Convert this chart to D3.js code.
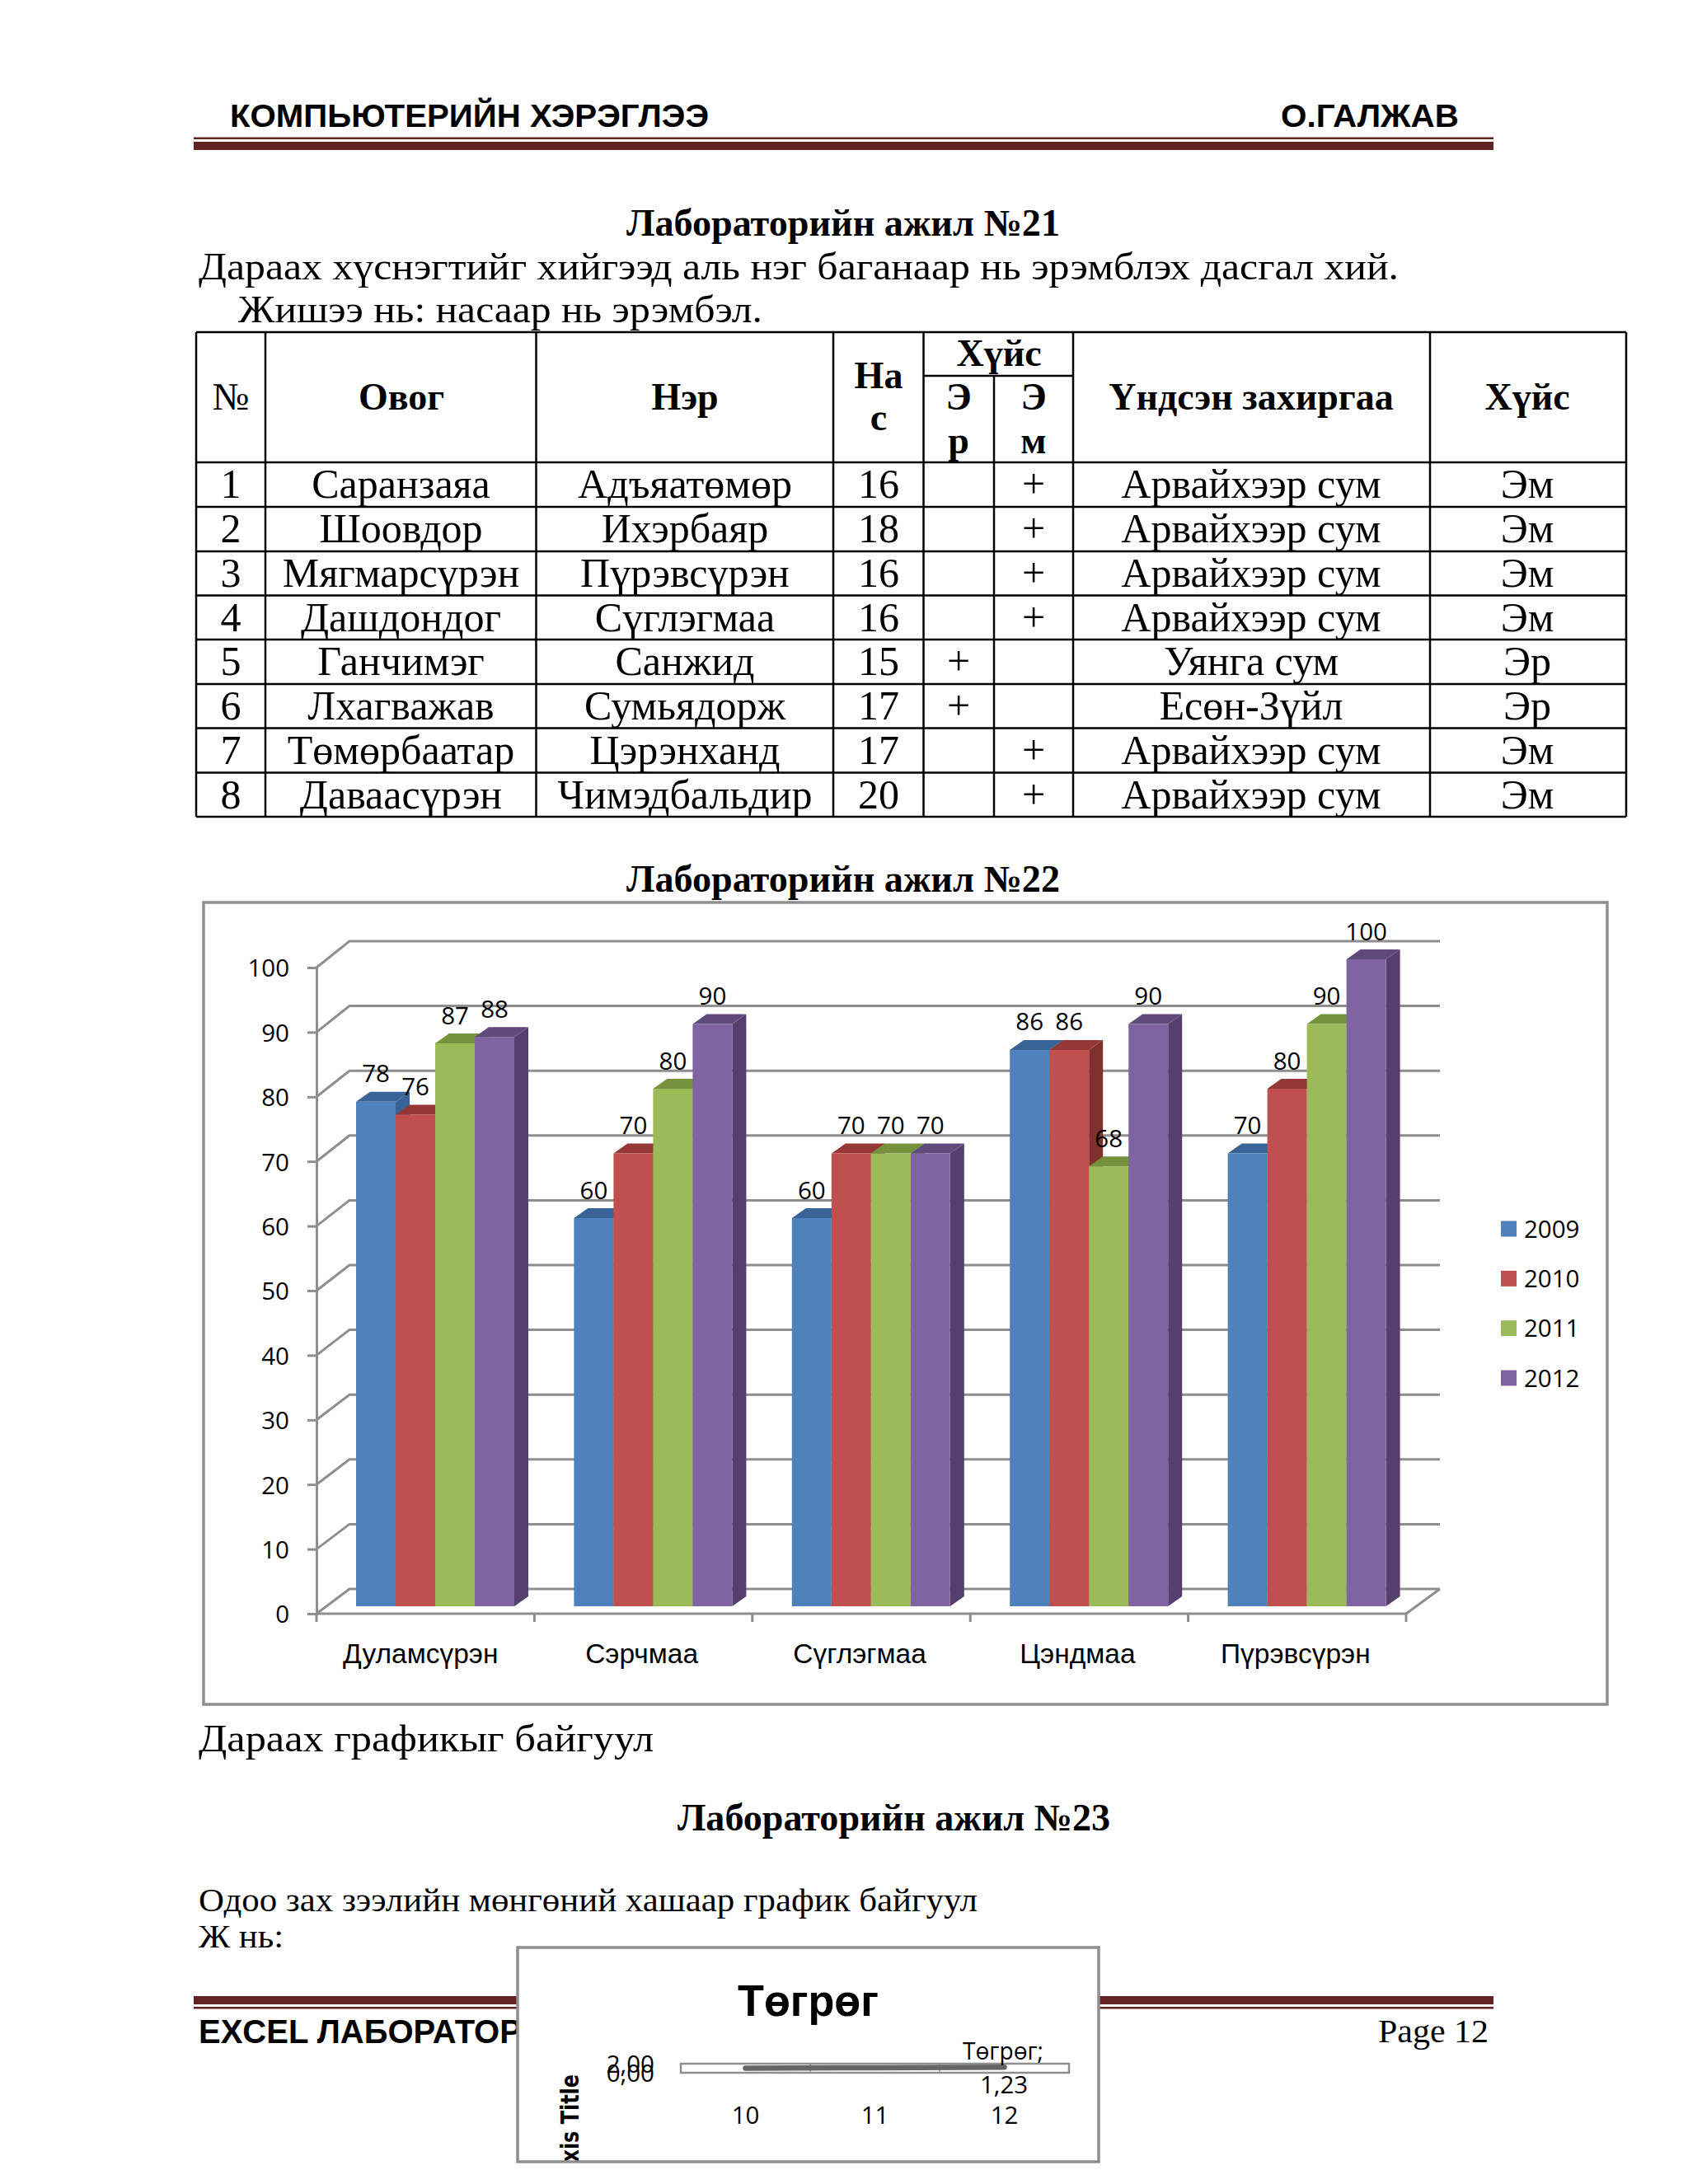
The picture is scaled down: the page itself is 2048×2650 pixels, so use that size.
<!DOCTYPE html>
<html><head><meta charset="utf-8">
<script src="https://cdn.jsdelivr.net/npm/d3@7"></script>
<style>html,body{margin:0;padding:0;background:#fff}svg{display:block}</style>
</head><body><div id="c"></div>
<script>
// ---- main chart data
const categories = ["Дуламсүрэн","Сэрчмаа","Сүглэгмаа","Цэндмаа","Пүрэвсүрэн"];
const seriesNames = ["2009","2010","2011","2012"];
const s2009 = [78,60,60,86,70];
const s2010 = [76,70,70,86,80];
const s2011 = [87,80,70,68,90];
const s2012 = [88,90,70,90,100];
const yTicks = [0,10,20,30,40,50,60,70,80,90,100];
const frontColors = ["#4f81bd","#c0504d","#9bbb59","#8064a2"];
const topColors = ["#386396","#953735","#76923c","#604a7b"];
const sideColors = ["#386396","#7f312d","#76923c","#553f6d"];
// ---- table data
const rowNo = ["1","2","3","4","5","6","7","8"];
const surnames = ["Саранзаяа","Шоовдор","Мягмарсүрэн","Дашдондог","Ганчимэг","Лхагважав","Төмөрбаатар","Даваасүрэн"];
const givenNames = ["Адъяатөмөр","Ихэрбаяр","Пүрэвсүрэн","Сүглэгмаа","Санжид","Сумьядорж","Цэрэнханд","Чимэдбальдир"];
const ages = ["16","18","16","16","15","17","17","20"];
const male = ["","","","","+","+","",""];
const female = ["+","+","+","+","","","+","+"];
const districts = ["Арвайхээр сум","Арвайхээр сум","Арвайхээр сум","Арвайхээр сум","Уянга сум","Есөн-Зүйл","Арвайхээр сум","Арвайхээр сум"];
const genders = ["Эм","Эм","Эм","Эм","Эр","Эр","Эм","Эм"];
// ---- inset chart data
const insetCats = ["10","11","12"];
const insetValues = [1.0,1.1,1.23];
const insetTicks = [0,2];

const SERIF="'Liberation Serif',serif", SANS="'Liberation Sans',sans-serif", CAL="'Open Sans',sans-serif";
const GRID="#8e8e8e", RULE="#622423", LBL=29.5;
const svg=d3.select("#c").append("svg").attr("width",2048).attr("height",2650);
svg.append("rect").attr("width",2048).attr("height",2650).attr("fill","#fff");

function txt(p,s,x,y,o={}){
  const t=p.append("text").text(s).attr("x",x).attr("y",y)
    .attr("font-family",o.f||SERIF).attr("font-size",o.s||46)
    .attr("font-weight",o.b?"bold":"normal").attr("text-anchor",o.a||"start").attr("fill","#000");
  if(o.w) t.attr("textLength",o.w).attr("lengthAdjust","spacingAndGlyphs");
  return t;
}
function rule(y1,h1,y2,h2){
  svg.append("rect").attr("x",235).attr("width",1577).attr("y",y1).attr("height",h1).attr("fill",RULE);
  svg.append("rect").attr("x",235).attr("width",1577).attr("y",y2).attr("height",h2).attr("fill",RULE);
}
// header
txt(svg,"КОМПЬЮТЕРИЙН ХЭРЭГЛЭЭ",279,154,{f:SANS,b:1,s:39,w:581});
txt(svg,"О.ГАЛЖАВ",1554,154,{f:SANS,b:1,s:39,w:216});
rule(166.5,2.5,172,10);
// body texts
txt(svg,"Лабораторийн ажил №21",760,285.5,{b:1,s:46,w:526});
txt(svg,"Дараах хүснэгтийг хийгээд аль нэг баганаар нь эрэмблэх дасгал хий.",241,338.5,{s:47,w:1456});
txt(svg,"Жишээ нь: насаар нь эрэмбэл.",289,391,{s:47,w:636});

// table
const colX=[238,322,650.5,1011,1120.5,1206,1302,1735,1973];
const rowY=[561,615,669,722.5,776,830,883.5,937.5,991];
const tbl=svg.append("g").attr("stroke","#000").attr("stroke-width",2.5);
const ln=(a,b,c,d)=>tbl.append("line").attr("x1",a).attr("y1",b).attr("x2",c).attr("y2",d);
colX.forEach((x,i)=>{ if(i==5) ln(x,456,x,991); else ln(x,403,x,991); });
ln(238,403,1973,403); ln(1120.5,456,1302,456);
rowY.forEach(y=>ln(238,y,1973,y));
const hb={b:1,s:46,a:"middle"};
txt(svg,"№",280,497,{s:47,a:"middle"});
[["Овог",487,497],["Нэр",831,497],["На",1066,471],["с",1066,522],["Хүйс",1212,444],
 ["Э",1163,497],["р",1163,550],["Э",1254,497],["м",1254,550],["Үндсэн захиргаа",1518,497],["Хүйс",1853,497]]
 .forEach(d=>txt(svg,d[0],d[1],d[2],hb));
const cols=[[rowNo,280],[surnames,486.5],[givenNames,831],[ages,1066],[male,1163],[female,1254],[districts,1518],[genders,1853]];
cols.forEach(([arr,x])=>arr.forEach((v,i)=>{ if(v) txt(svg,v,x,rowY[i]+43,{s:50,a:"middle"}); }));

txt(svg,"Лабораторийн ажил №22",760,1081.5,{b:1,s:46,w:526});

// main chart
svg.append("rect").attr("x",247).attr("y",1095).attr("width",1703).attr("height",973)
  .attr("fill","#fff").attr("stroke",GRID).attr("stroke-width",3.5);
const x0=d3.scaleBand().domain(categories).range([384,1706]);
const xBar=d3.scaleBand().domain(seriesNames).range([48,240]);
const yFront=d3.scaleLinear().domain([0,100]).range([1958,1174]);
const yBack=d3.scaleLinear().domain([0,100]).range([1928,1142]);
const yBar=d3.scaleLinear().domain([0,100]).range([1949,1164]);
const DX=40, BDX=17, BDY=12;
const grid=svg.append("g").attr("stroke",GRID).attr("stroke-width",3).attr("fill","none");
grid.selectAll("path.g").data(yTicks).join("path").attr("class","g")
  .attr("d",v=>`M${x0.range()[0]},${yFront(v)}L${x0.range()[0]+DX},${yBack(v)}L1747,${yBack(v)}`);
grid.append("path").attr("d",`M${x0.range()[1]},${yFront(0)}L1747,${yBack(0)}`);
// axes
const yAxis=svg.append("g").attr("transform","translate(384,0)")
  .call(d3.axisLeft(yFront).tickValues(yTicks).tickSize(11).tickPadding(22));
yAxis.selectAll("path,line").attr("stroke",GRID).attr("stroke-width",3);
yAxis.selectAll("text").attr("font-family",CAL).attr("font-size",LBL).attr("fill","#000").attr("transform","translate(0,1.5)");
svg.append("line").attr("x1",384).attr("x2",1706).attr("y1",1958).attr("y2",1958).attr("stroke",GRID).attr("stroke-width",3);
svg.append("g").selectAll("line").data(d3.range(categories.length+1)).join("line")
  .attr("x1",i=>x0.range()[0]+i*x0.step()).attr("x2",i=>x0.range()[0]+i*x0.step())
  .attr("y1",1958).attr("y2",1968).attr("stroke",GRID).attr("stroke-width",3);
const xAxis=svg.append("g").attr("transform","translate(-2,1958)").call(d3.axisBottom(x0).tickSize(0));
xAxis.select("path").remove();
xAxis.selectAll("text").attr("y",60).attr("dy",0).attr("dx",(d,i)=>i==0?-4:0).attr("font-family",SANS).attr("font-size",33.5).attr("fill","#000");
// bars
const rows=[s2009,s2010,s2011,s2012];
const marks=[];
categories.forEach((c,ci)=>seriesNames.forEach((s,si)=>marks.push({c,s,si,v:rows[si][ci]})));
const barG=svg.append("g");
const w=xBar.bandwidth();
marks.forEach(m=>{
  const x=x0(m.c)+xBar(m.s), y=yBar(m.v), b=yBar(0);
  const g=barG.append("g");
  g.append("path").attr("fill",sideColors[m.si]).attr("d",`M${x+w},${y}L${x+w+BDX},${y-BDY}L${x+w+BDX},${b-BDY}L${x+w},${b}Z`);
  g.append("path").attr("fill",topColors[m.si]).attr("d",`M${x},${y}L${x+BDX},${y-BDY}L${x+w+BDX},${y-BDY}L${x+w},${y}Z`);
  g.append("rect").attr("fill",frontColors[m.si]).attr("x",x).attr("y",y).attr("width",w).attr("height",b-y);
});
svg.append("g").selectAll("text").data(marks).join("text")
  .text(d=>d.v).attr("x",d=>x0(d.c)+xBar(d.s)+w/2).attr("y",d=>yBar(d.v)-23.5)
  .attr("text-anchor","middle").attr("font-family",CAL).attr("font-size",LBL).attr("fill","#000");
// legend
const legY=d3.scalePoint().domain(seriesNames).range([1491,1672]);
const leg=svg.append("g").selectAll("g").data(seriesNames).join("g").attr("transform",d=>`translate(0,${legY(d)})`);
leg.append("rect").attr("x",1821).attr("y",-9.5).attr("width",19).attr("height",19).attr("fill",(d,i)=>frontColors[i]);
leg.append("text").text(d=>d).attr("x",1849).attr("y",10.5).attr("font-family",CAL).attr("font-size",LBL).attr("fill","#000");

txt(svg,"Дараах графикыг байгуул",241,2125,{s:47,w:552});
txt(svg,"Лабораторийн ажил №23",822,2220.5,{b:1,s:46,w:525});
txt(svg,"Одоо зах зээлийн мөнгөний хашаар график байгуул",241,2318.5,{s:41,w:945});
txt(svg,"Ж нь:",241,2363,{s:41,w:103});

// footer
rule(2422,10,2435,2.5);
txt(svg,"EXCEL ЛАБОРАТОР",241,2478.5,{f:SANS,b:1,s:40});
txt(svg,"Page 12",1672,2478,{s:39,w:134});

// inset chart
const defs=svg.append("defs");
defs.append("clipPath").attr("id","ins").append("rect").attr("x",628).attr("y",2363).attr("width",705).attr("height",260);
svg.append("rect").attr("x",628).attr("y",2363).attr("width",705).attr("height",260).attr("fill","#fff");
const ins=svg.append("g").attr("clip-path","url(#ins)");
txt(ins,"Төгрөг",895,2446,{f:SANS,b:1,s:54,w:171});
const ix=d3.scaleBand().domain(insetCats).range([826,1297]);
const iy=d3.scaleLinear().domain([0,2]).range([2515,2504]);
ins.append("rect").attr("x",826).attr("y",2504).attr("width",471).attr("height",11).attr("fill","#fff").attr("stroke",GRID).attr("stroke-width",2.5);
ins.append("g").selectAll("line").data([1,2]).join("line")
  .attr("x1",i=>826+i*ix.step()).attr("x2",i=>826+i*ix.step()).attr("y1",2504).attr("y2",2515).attr("stroke",GRID).attr("stroke-width",1.5);
const iLine=d3.line().x((d,i)=>ix(insetCats[i])+ix.bandwidth()/2).y(d=>iy(d));
ins.append("path").attr("d",iLine(insetValues)).attr("fill","none").attr("stroke","#666").attr("stroke-width",6.5).attr("stroke-linecap","round");
const ia=ins.append("g").attr("transform","translate(826,1)").call(d3.axisLeft(iy).tickValues(insetTicks).tickSize(0).tickPadding(32).tickFormat(d=>d3.format(".2f")(d).replace(".",",")));
ia.select("path").remove();
ia.selectAll("text").attr("font-family",CAL).attr("font-size",LBL).attr("fill","#000");
const ib=ins.append("g").attr("transform","translate(0,2515)").call(d3.axisBottom(ix).tickSize(0));
ib.select("path").remove();
ib.selectAll("text").attr("y",62).attr("dy",0).attr("font-family",CAL).attr("font-size",LBL).attr("fill","#000");
txt(ins,"Төгрөг;",1217,2499,{f:CAL,s:LBL,a:"middle",w:98});
txt(ins,"1,23",1218,2540,{f:CAL,s:LBL,a:"middle"});
ins.append("text").text("Axis Title").attr("transform","translate(702,2517) rotate(-90)").attr("text-anchor","end")
  .attr("font-family","'DejaVu Sans',sans-serif").attr("font-weight","bold").attr("font-size",30).attr("textLength",125).attr("lengthAdjust","spacingAndGlyphs").attr("fill","#000");
svg.append("rect").attr("x",628).attr("y",2363).attr("width",705).attr("height",260).attr("fill","none").attr("stroke",GRID).attr("stroke-width",3.5);
</script></body></html>
